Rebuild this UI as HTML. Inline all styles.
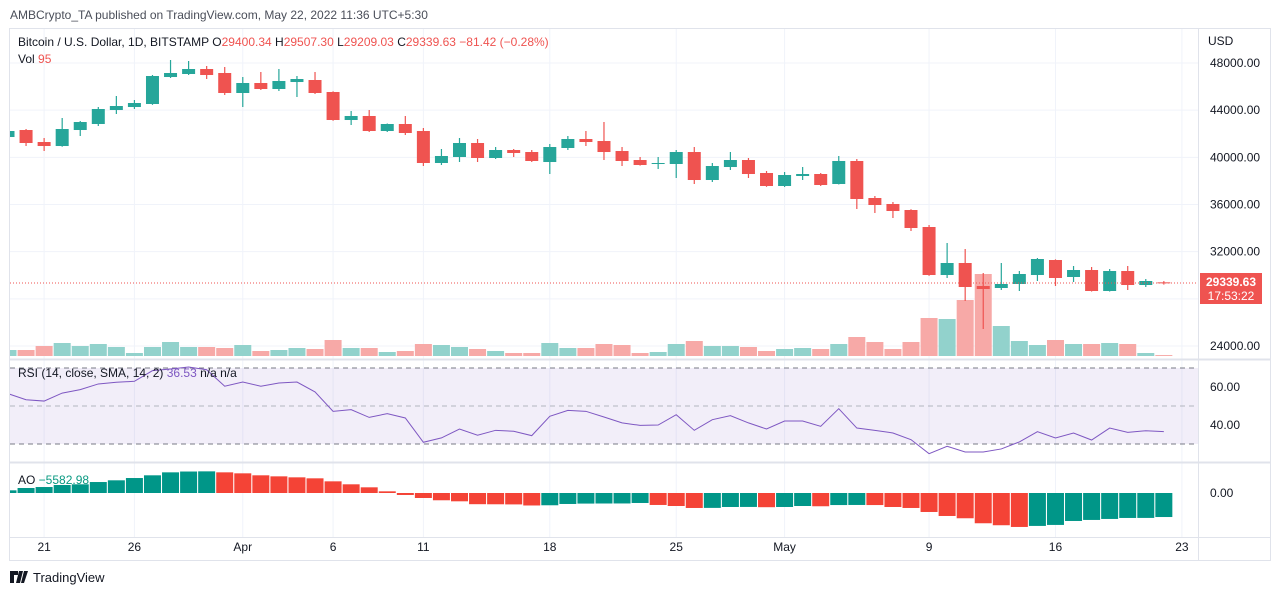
<!DOCTYPE html>
<html><head><meta charset="utf-8">
<style>
html,body{margin:0;padding:0;background:#fff;}
body{width:1280px;height:595px;overflow:hidden;font-family:"Liberation Sans",sans-serif;}
svg text{font-family:"Liberation Sans",sans-serif;}
</style></head>
<body>
<svg id="chart" width="1280" height="595" viewBox="0 0 1280 595" xmlns="http://www.w3.org/2000/svg">
  <defs><clipPath id="plotclip"><rect x="10" y="29" width="1188" height="508"/></clipPath></defs>
  <text x="10" y="19" font-size="12" fill="#4a4e59">AMBCrypto_TA published on TradingView.com, May 22, 2022 11:36 UTC+5:30</text>
  <rect x="9.5" y="28.5" width="1261" height="532" fill="none" stroke="#e0e3eb"/>
  <g id="grid"></g>
  <g id="volume" clip-path="url(#plotclip)"></g>
  <g id="candles" clip-path="url(#plotclip)"></g>
  <g id="rsi" clip-path="url(#plotclip)"></g>
  <g id="ao" clip-path="url(#plotclip)"></g>
  <g id="axes"></g>
  <g font-size="12">
    <text x="18" y="46" fill="#131722">Bitcoin / U.S. Dollar, 1D, BITSTAMP <tspan fill="#131722">O</tspan><tspan fill="#ef5350">29400.34</tspan> <tspan fill="#131722">H</tspan><tspan fill="#ef5350">29507.30</tspan> <tspan fill="#131722">L</tspan><tspan fill="#ef5350">29209.03</tspan> <tspan fill="#131722">C</tspan><tspan fill="#ef5350">29339.63</tspan> <tspan fill="#ef5350">−81.42 (−0.28%)</tspan></text>
    <text x="18" y="63" fill="#131722">Vol <tspan fill="#ef5350">95</tspan></text>
    <text x="18" y="377" fill="#131722">RSI (14, close, SMA, 14, 2) <tspan fill="#7e57c2">36.53</tspan> n/a n/a</text>
    <text x="18" y="484" fill="#131722">AO <tspan fill="#089981">−5582.98</tspan></text>
  </g>
  <text x="1208" y="45" font-size="12" fill="#131722">USD</text>
  <g>
    <rect x="1200" y="273" width="62" height="31" fill="#ef5350"/>
    <text x="1231" y="286" font-size="12" fill="#fff" text-anchor="middle" font-weight="bold">29339.63</text>
    <text x="1231" y="300" font-size="12" fill="#fff" text-anchor="middle">17:53:22</text>
  </g>
  <g>
    <path d="M10 571h8v4h-4v8h-4z M19 571h4l-3 12h-4z M24 571h4l-4 12h-3z" fill="#131722"/>
    <text x="33" y="582" font-size="13" fill="#131722">TradingView</text>
  </g>
</svg>
<script>
const dates = ["Mar19","Mar20","Mar21","Mar22","Mar23","Mar24","Mar25","Mar26","Mar27","Mar28","Mar29","Mar30","Mar31","Apr1","Apr2","Apr3","Apr4","Apr5","Apr6","Apr7","Apr8","Apr9","Apr10","Apr11","Apr12","Apr13","Apr14","Apr15","Apr16","Apr17","Apr18","Apr19","Apr20","Apr21","Apr22","Apr23","Apr24","Apr25","Apr26","Apr27","Apr28","Apr29","Apr30","May1","May2","May3","May4","May5","May6","May7","May8","May9","May10","May11","May12","May13","May14","May15","May16","May17","May18","May19","May20","May21","May22"];
const opens = [41724,42318,41300,40961,42318,42827,44014,44268,44523,46812,47067,47491,47152,45456,46304,45795,46388,46558,45540,43166,43506,42233,42827,42233,39520,40029,41216,39944,40622,40452,39604,40792,41555,41385,40537,39774,39435,39435,40452,38078,39180,39774,38672,37570,38417,38587,37739,39690,36552,36043,35534,34092,30022,31040,29090,28920,29260,30022,31294,29853,30446,28666,30361,29174,29400];
const highs = [42318,42403,41640,43336,43081,44268,45201,44862,46982,48254,48170,47746,47660,46812,47236,47491,46897,47236,45600,43929,44014,42870,43506,42488,40707,41640,41555,40876,40707,40622,41131,41809,42233,42996,40876,40029,40029,40622,40876,39520,40452,39944,38841,38756,39180,38672,40114,39859,36721,36213,35600,34262,32736,32227,30192,31040,30361,31464,31350,30785,30700,30530,30785,29683,29507];
const lows = [41640,40961,40537,40900,41809,42657,43675,44099,44450,46728,46982,46643,45286,44268,45710,45626,45117,45371,43100,42742,42148,42150,41894,39265,39350,39604,39604,39859,40029,39604,38587,40622,40961,39774,39265,39300,39011,38247,37739,37908,38926,38247,37500,37484,38078,37570,37700,35619,35280,34856,33753,29950,29768,27817,25443,28750,28666,29514,29090,29429,28620,28620,28750,29005,29209];
const closes = [42233,41216,40961,42403,42996,44099,44353,44608,46897,47152,47491,46982,45456,46304,45795,46473,46643,45456,43166,43506,42233,42827,42064,39520,40114,41216,39944,40622,40368,39690,40876,41555,41300,40452,39690,39350,39520,40452,38078,39265,39774,38587,37570,38502,38587,37654,39690,36467,35958,35449,34008,30022,31040,29005,28835,29260,30107,31379,29768,30446,28666,30361,29174,29514,29340];
const volumes = [600,600,1000,1300,1000,1200,900,300,900,1400,900,900,800,1100,500,600,800,700,1600,800,800,400,500,1200,1100,900,700,500,300,300,1300,800,800,1200,1100,300,400,1200,1500,1000,1000,900,500,700,800,700,1200,1900,1400,700,1400,3800,3700,5600,8200,3000,1500,1100,1600,1200,1200,1300,1200,300,95];
const rsiValues = [56.5,53.3,52.6,56.8,58.6,61.6,62.5,63,68.6,69.5,70.5,69.1,60.4,62.6,60.4,62.1,62.6,57.4,47.2,48.1,44,46,43.7,30.9,33.2,37.9,34.6,37.2,36.7,34.4,44.6,47.7,47.2,44.2,41.1,39.8,40,45.4,37.2,42.8,44.9,41.1,37.9,42.1,42.1,39.3,48.6,38.4,37.2,35.8,32.3,24.9,28.8,25.8,25.8,27.4,31.1,36.5,33.2,35.8,32.1,38.4,36.1,37,36.53];
const aoValues = [620,1160,1390,1860,2020,2550,2950,3480,4110,4800,4990,5030,4800,4570,4110,3870,3640,3410,2710,2020,1320,390,-460,-1160,-1690,-1930,-2600,-2620,-2650,-2900,-2850,-2550,-2460,-2440,-2430,-2320,-2780,-3020,-3480,-3460,-3250,-3240,-3300,-3250,-3020,-3080,-2800,-2780,-2800,-3250,-3480,-4410,-5340,-5870,-7030,-7490,-7890,-7650,-7420,-6500,-6260,-6030,-5800,-5790,-5583];
const priceTicks = [24000,28000,32000,36000,40000,44000,48000];
const rsiTicks = [40,60];
const timeTicks = [{i:2,l:"21"},{i:7,l:"26"},{i:13,l:"Apr"},{i:18,l:"6"},{i:23,l:"11"},{i:30,l:"18"},{i:37,l:"25"},{i:43,l:"May"},{i:51,l:"9"},{i:58,l:"16"},{i:65,l:"23"}];

const NS="http://www.w3.org/2000/svg";
function mk(parent,tag,attrs){const e=document.createElementNS(NS,tag);for(const k in attrs)e.setAttribute(k,attrs[k]);parent.appendChild(e);return e;}
const PLOT_L=10, PLOT_R=1198;
const xOf = i => 8 + i*18.06;
const yPrice = p => 63 + (48000-p)*47.17/4000;
const yRsi = v => 425 - (v-40)*1.9;
const AO_ZERO=493, AO_SCALE=34/7900;
const yAo = v => AO_ZERO - v*AO_SCALE;
const VOL_BASE=356;
const volH = v => v/100;
const UP="#26a69a", DN="#ef5350";

const grid=document.getElementById('grid');
const axes=document.getElementById('axes');
priceTicks.forEach(p=>{
  const l=mk(grid,'line',{x1:PLOT_L,x2:PLOT_R,y1:yPrice(p),y2:yPrice(p),stroke:"#f0f3fa"});
  
  
  const t=mk(axes,'text',{x:1210,y:yPrice(p)+4,'font-size':12,fill:"#131722"});
  
  
  t.textContent=p.toFixed(2);
});
timeTicks.forEach(tk=>{
  const x=xOf(tk.i);
  const l=mk(grid,'line',{x1:x,x2:x,y1:29,y2:537,stroke:"#f0f3fa"});
  
  
  const t=mk(axes,'text',{x:x,y:551,'font-size':12,fill:"#131722",'text-anchor':'middle'});
  
  
  t.textContent=tk.l;
});
[[359],[462],[537]].forEach(a=>{
  const l=mk(axes,'line',{x1:10,x2:1270,y1:a[0]+0.5,y2:a[0]+0.5,stroke:"#e0e3eb",'stroke-width':a[0]===537?1:2});
  
  
});
const ab=mk(axes,'line',{x1:1198.5,x2:1198.5,y1:29,y2:560,stroke:"#e0e3eb"});



const vg=document.getElementById('volume');
volumes.forEach((v,i)=>{
  const up=closes[i]>=opens[i];
  const h=volH(v);
  const r=mk(vg,'rect',{x:xOf(i)-8.5,y:VOL_BASE-h,width:17,height:h,fill:up?"#92d2cc":"#f7a9a7"});
  
  
});
const pl=mk(axes,'line',{x1:PLOT_L,x2:PLOT_R,y1:yPrice(closes[closes.length-1]),y2:yPrice(closes[closes.length-1]),stroke:DN,'stroke-dasharray':'1 2'});


const cg=document.getElementById('candles');
dates.forEach((d,i)=>{
  const up=closes[i]>=opens[i];
  const col=up?UP:DN;
  const x=xOf(i);
  const g=mk(cg,'g',{});
  
  
  mk(g,'line',{x1:x,x2:x,y1:yPrice(highs[i]),y2:yPrice(lows[i]),stroke:col,'stroke-width':1.2});
  const top=yPrice(Math.max(opens[i],closes[i])), bot=yPrice(Math.min(opens[i],closes[i]));
  mk(g,'rect',{x:x-6.5,y:top,width:13,height:Math.max(1,bot-top),fill:col});
});
const rg=document.getElementById('rsi');
const band=mk(rg,'rect',{x:PLOT_L,y:yRsi(70),width:PLOT_R-PLOT_L,height:yRsi(30)-yRsi(70),fill:"#7e57c2",'fill-opacity':0.1});


[70,50,30].forEach(v=>{
  const l=mk(rg,'line',{x1:PLOT_L,x2:PLOT_R,y1:yRsi(v),y2:yRsi(v),stroke:v===50?"#b2b5be":"#787b86",'stroke-dasharray':'5 4'});
  
  
});
rsiTicks.forEach(v=>{
  const t=mk(axes,'text',{x:1210,y:yRsi(v)+4,'font-size':12,fill:"#131722"});
  
  
  t.textContent=v.toFixed(2);
});
const rl=mk(rg,'polyline',{points:rsiValues.map((v,i)=>xOf(i)+','+yRsi(v)).join(' '),fill:'none',stroke:'#7e57c2','stroke-width':1});


const ag=document.getElementById('ao');
aoValues.forEach((v,i)=>{
  const up = i===0 ? true : v>=aoValues[i-1];
  const y0=yAo(Math.max(0,v)), y1=yAo(Math.min(0,v));
  const r=mk(ag,'rect',{x:xOf(i)-8.5,y:y0,width:17,height:Math.max(1,y1-y0),fill:up?"#009688":"#f44336"});
  
  
});
const az=mk(axes,'text',{x:1210,y:AO_ZERO+4,'font-size':12,fill:"#131722"});


az.textContent="0.00";
</script>
</body></html>
